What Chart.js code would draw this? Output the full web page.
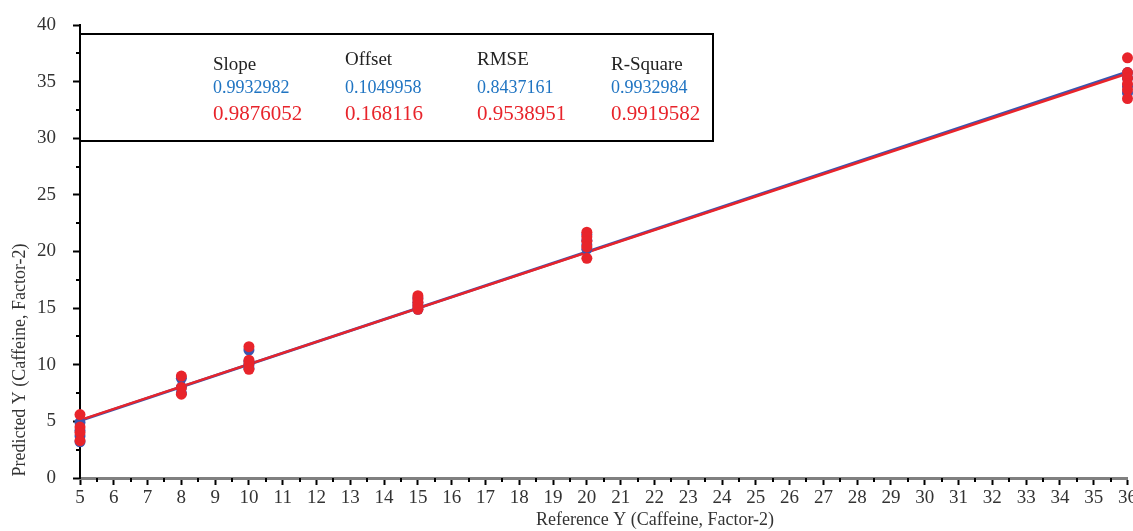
<!DOCTYPE html>
<html>
<head>
<meta charset="utf-8">
<script src="https://cdn.jsdelivr.net/npm/chart.js@4/dist/chart.umd.min.js"></script>
<style>
  html, body { margin: 0; padding: 0; background: #ffffff; }
  #wrap { width: 1133px; height: 531px; position: relative; }
</style>
</head>
<body>
<div id="wrap"><canvas id="c" width="1133" height="531"></canvas></div>
<script>
// ---- data ----
const calX = [5, 5, 5, 5, 8, 8, 8, 10, 10, 10, 10, 15, 15, 15, 15, 20, 20, 20, 20, 36, 36, 36, 36];
const calY = [4.9, 4.2, 3.7, 3.2, 8.8, 8.0, 7.5, 11.3, 10.3, 10.0, 9.7, 15.9, 15.5, 15.2, 14.9, 21.5, 21.0, 20.6, 20.2, 35.8, 35.3, 34.6, 34.0];
const valX = [5, 5, 5, 5, 8, 8, 8, 10, 10, 10, 10, 15, 15, 15, 15, 15, 20, 20, 20, 20, 20, 36, 36, 36, 36, 36, 36];
const valY = [5.6, 4.5, 4.0, 3.3, 9.0, 8.0, 7.4, 11.6, 10.4, 10.1, 9.6, 16.1, 15.8, 15.5, 15.2, 14.9, 21.7, 21.3, 20.9, 20.4, 19.4, 37.1, 35.8, 35.3, 34.8, 34.3, 33.5];
const lineX = [5, 36];
const calLineY = [5.07, 35.86];
const valLineY = [5.11, 35.72];

const statHeaders = ["Slope", "Offset", "RMSE", "R-Square"];
const calStats = ["0.9932982", "0.1049958", "0.8437161", "0.9932984"];
const valStats = ["0.9876052", "0.168116", "0.9538951", "0.9919582"];

const xTitle = "Reference Y (Caffeine, Factor-2)";
const yTitle = "Predicted Y (Caffeine, Factor-2)";

// ---- styles ----
const RED = "#e8242b";
const BLUE = "#3b55b0";
const BLUE_TXT = "#1f74c2";
const SERIF = "'Liberation Serif', 'Times New Roman', serif";

const toPts = (xs, ys) => xs.map((x, i) => ({ x: x, y: ys[i] }));

const extras = {
  id: "extras",
  afterDraw(chart) {
    const ctx = chart.ctx;
    const xs = chart.scales.x, ys = chart.scales.y;
    const area = chart.chartArea;
    ctx.save();
    // minor ticks
    ctx.strokeStyle = "#000";
    ctx.lineWidth = 2;
    for (let v = 2.5; v < 40; v += 5) {
      const py = Math.round(ys.getPixelForValue(v));
      ctx.beginPath(); ctx.moveTo(area.left - 4, py); ctx.lineTo(area.left, py); ctx.stroke();
    }
    for (let v = 5.5; v < 36; v += 1) {
      const px = Math.round(xs.getPixelForValue(v));
      ctx.beginPath(); ctx.moveTo(px, area.bottom); ctx.lineTo(px, area.bottom + 4); ctx.stroke();
    }
    // stats box
    ctx.fillStyle = "#fff";
    ctx.fillRect(81, 35, 632, 105);
    ctx.strokeStyle = "#000";
    ctx.lineWidth = 2;
    ctx.strokeRect(80, 34, 633, 107);
    const colX = [213, 345, 477, 611];
    const headY = [65, 60, 60, 65];
    ctx.textBaseline = "middle";
    ctx.textAlign = "left";
    for (let i = 0; i < 4; i++) {
      ctx.fillStyle = "#222";
      ctx.font = "19px " + SERIF;
      ctx.fillText(statHeaders[i], colX[i], headY[i]);
      ctx.fillStyle = BLUE_TXT;
      ctx.font = "18px " + SERIF;
      ctx.fillText(calStats[i], colX[i], 88);
      ctx.fillStyle = RED;
      ctx.font = "21px " + SERIF;
      ctx.fillText(valStats[i], colX[i], 114);
    }
    // axis titles
    ctx.fillStyle = "#333";
    ctx.font = "18px " + SERIF;
    ctx.textAlign = "center";
    ctx.fillText(xTitle, 655, 520);
    ctx.translate(20, 360);
    ctx.rotate(-Math.PI / 2);
    ctx.fillText(yTitle, 0, 0);
    ctx.restore();
  }
};

new Chart(document.getElementById("c"), {
  type: "scatter",
  data: {
    datasets: [
      { label: "Validation", data: toPts(valX, valY), backgroundColor: RED, borderColor: RED, pointRadius: 5.5, pointBorderWidth: 0, order: 0 },
      { label: "Calibration", data: toPts(calX, calY), backgroundColor: BLUE, borderColor: BLUE, pointRadius: 5.5, pointBorderWidth: 0, order: 1 },
      { label: "Validation fit", data: toPts(lineX, valLineY), showLine: true, borderColor: RED, borderWidth: 2.5, pointRadius: 0, order: 2 },
      { label: "Calibration fit", data: toPts(lineX, calLineY), showLine: true, borderColor: BLUE, borderWidth: 3, pointRadius: 0, order: 3 }
    ]
  },
  options: {
    responsive: false,
    animation: false,
    clip: false,
    layout: { padding: { top: 25, right: 3, left: 0, bottom: 0 } },
    plugins: { legend: { display: false }, tooltip: { enabled: false } },
    scales: {
      x: {
        type: "linear", min: 5, max: 36,
        afterFit(s) { s.paddingLeft = 0; s.paddingRight = 0; s.height = 53; },
        ticks: { stepSize: 1, autoSkip: false, maxRotation: 0, padding: 2, color: "#333", font: { family: SERIF, size: 19 } },
        grid: { drawOnChartArea: false, drawTicks: true, tickLength: 7, tickColor: "#000", tickWidth: 2 },
        border: { color: "#808080", width: 3 }
      },
      y: {
        type: "linear", min: 0, max: 40,
        afterFit(s) { s.width = 80; s.paddingTop = 0; s.paddingBottom = 0; },
        ticks: { stepSize: 5, padding: 17, color: "#333", font: { family: SERIF, size: 19 } },
        grid: { drawOnChartArea: false, drawTicks: true, tickLength: 7, tickColor: "#000", tickWidth: 2 },
        border: { color: "#000", width: 2 }
      }
    }
  },
  plugins: [extras]
});
</script>
</body>
</html>
